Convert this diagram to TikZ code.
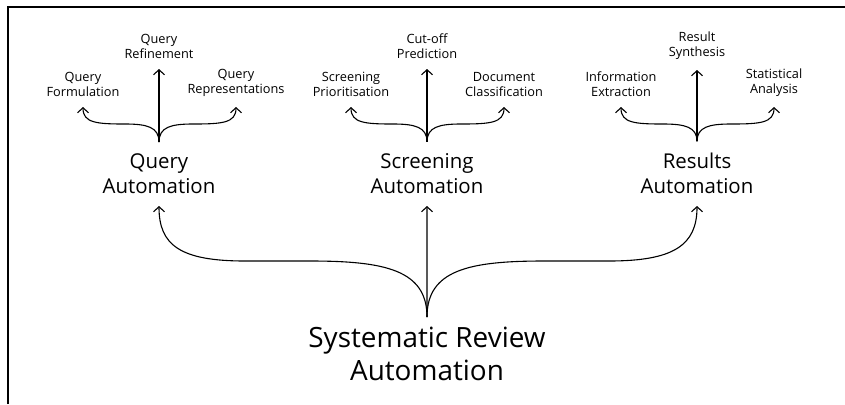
\documentclass[tikz,border=0pt]{standalone}
\usepackage{fontspec}
\setmainfont{Open Sans}
\usetikzlibrary{arrows.meta}
\tikzset{
  arr/.style={line width=1.1bp, draw=black, -{Straight Barb[length=5bp,width=11bp,line width=1.1bp]}},
  leaf/.style={anchor=south, align=center, inner sep=0pt, outer ysep=10bp, outer xsep=0pt,
    font=\fontsize{12.8}{15.5}\selectfont, text=black},
  hub/.style={anchor=south, align=center, inner sep=0pt, outer ysep=12bp, outer xsep=0pt,
    font=\fontsize{20.5}{25}\selectfont, text=black},
  root/.style={anchor=north, align=center, inner sep=0pt, outer ysep=10bp, outer xsep=0pt,
    font=\fontsize{28}{33}\selectfont, text=black},
  frame/.style={line width=1.5bp, draw=black}
}
\begin{document}
\begin{tikzpicture}[x=1bp, y=-1bp]
\useasboundingbox (0,0) rectangle (845,404);
\draw[frame] (8,404) -- (8,7) -- (845,7);

% Query group
\begin{scope}[xshift=159bp]
\node[hub] (qa) at (0,206) {Query\\Automation};
\node[leaf] (qf) at (-76,107) {Query\\Formulation};
\node[leaf] (qr) at (0,69) {Query\\Refinement};
\node[leaf] (qp) at (77,107) {Query\\Representations};
\draw[arr] (qa.north) -- (qr.south);
\draw[arr] (qa.north) .. controls (0,127) and (-12,124) .. (-34,124) .. controls (-62,124) and (-76,123) .. (qf.south);
\draw[arr] (qa.north) .. controls (0,127) and (12,124) .. (34,124) .. controls (63,124) and (77,123) .. (qp.south);
\end{scope}

% Screening group
\begin{scope}[xshift=427bp]
\node[hub] (sca) at (0,206) {Screening\\Automation};
\node[leaf] (sp) at (-76,107) {Screening\\Prioritisation};
\node[leaf] (cp) at (0,69) {Cut-off\\Prediction};
\node[leaf] (dc) at (77,107) {Document\\Classification};
\draw[arr] (sca.north) -- (cp.south);
\draw[arr] (sca.north) .. controls (0,127) and (-12,124) .. (-34,124) .. controls (-62,124) and (-76,123) .. (sp.south);
\draw[arr] (sca.north) .. controls (0,127) and (12,124) .. (34,124) .. controls (63,124) and (77,123) .. (dc.south);
\end{scope}

% Results group
\begin{scope}[xshift=697bp]
\node[hub] (ra) at (0,206) {Results\\Automation};
\node[leaf] (ie) at (-76,107) {Information\\Extraction};
\node[leaf] (rs) at (0,70) {Result\\Synthesis};
\node[leaf] (sa) at (77,107) {Statistical\\Analysis};
\draw[arr] (ra.north) -- (rs.south);
\draw[arr] (ra.north) .. controls (0,127) and (-12,124) .. (-34,124) .. controls (-62,124) and (-76,123) .. (ie.south);
\draw[arr] (ra.north) .. controls (0,127) and (12,124) .. (34,124) .. controls (63,124) and (77,123) .. (sa.south);
\end{scope}

% Root
\node[root] (sra) at (427,317) {Systematic Review\\Automation};
\draw[arr] (sra.north) -- (sca.south);
\draw[arr] (sra.north) .. controls (427,270) and (385,261) .. (310,261) -- (245,261) .. controls (180,261) and (159,245) .. (qa.south);
\draw[arr] (sra.north) .. controls (427,270) and (469,261) .. (544,261) -- (609,261) .. controls (674,261) and (697,245) .. (ra.south);
\end{tikzpicture}
\end{document}
